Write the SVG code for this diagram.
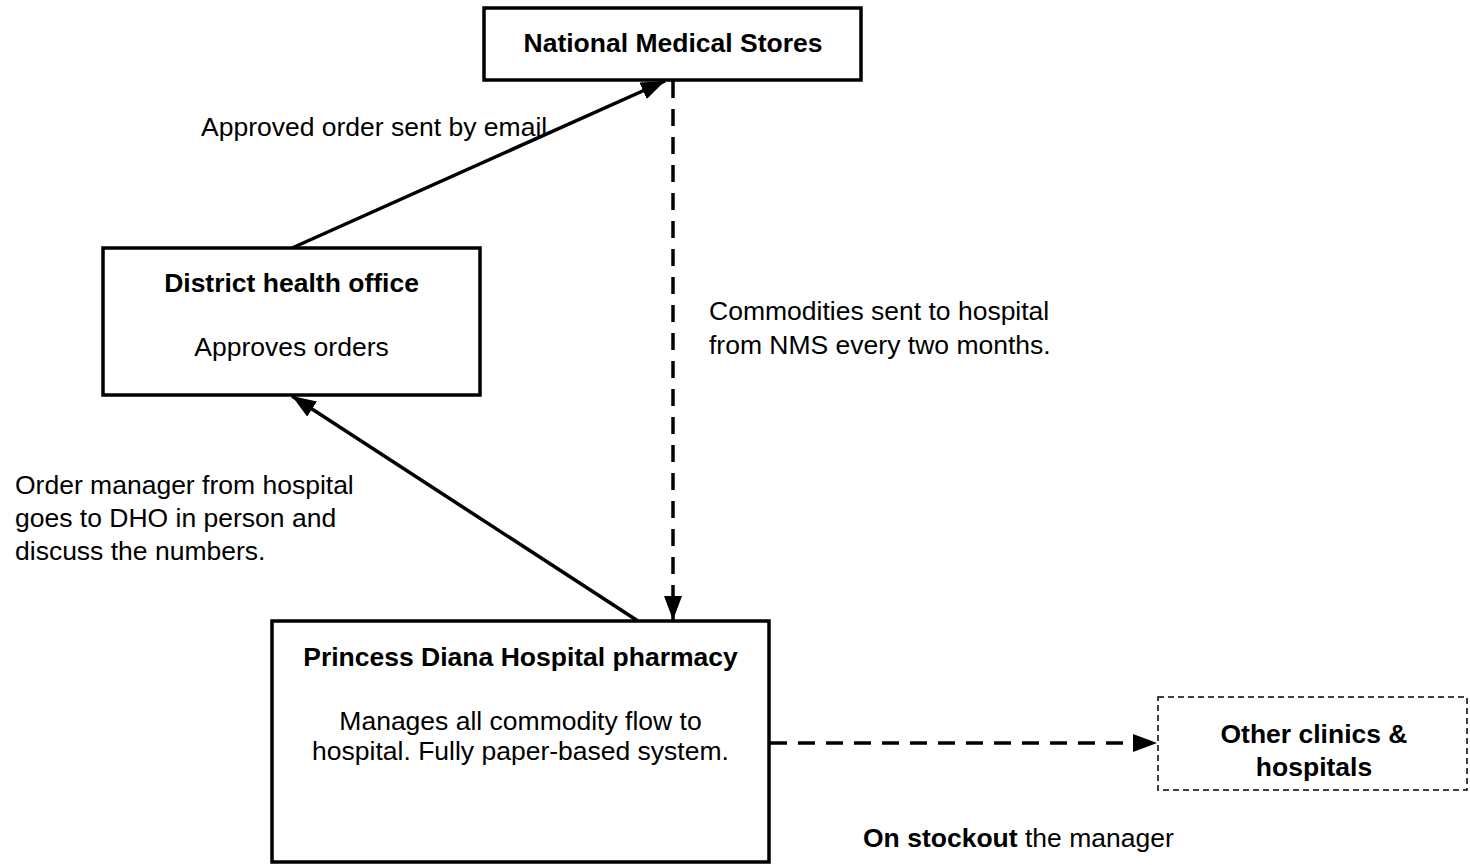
<svg xmlns="http://www.w3.org/2000/svg" width="1470" height="865" viewBox="0 0 1470 865">
<style>
.box{fill:#fff;stroke:#000;stroke-width:3.5}
.dbox{fill:#fff;stroke:#000;stroke-width:1.5;stroke-dasharray:6 4}
.t{font-family:"Liberation Sans",Arial,sans-serif;font-size:26.5px;fill:#000}
.b{font-weight:bold}
.c{text-anchor:middle}
.ln{fill:none;stroke:#000;stroke-width:3.5}
.dash{stroke-dasharray:17 11}
</style>
<defs>
<marker id="ah" viewBox="0 0 24 18" refX="24" refY="9" markerWidth="24" markerHeight="18" markerUnits="userSpaceOnUse" orient="auto">
<path d="M0,0 L24,9 L0,18 Z" fill="#000"/>
</marker>
</defs>
<g id="connectors">
<line class="ln" x1="292" y1="248" x2="665" y2="81" marker-end="url(#ah)"/>
<line class="ln" x1="638" y1="621" x2="292" y2="396" marker-end="url(#ah)"/>
<line class="ln dash" x1="673" y1="81" x2="673" y2="620" marker-end="url(#ah)"/>
<line class="ln dash" x1="770" y1="743" x2="1157" y2="743" marker-end="url(#ah)"/>
</g>
<g id="nms">
<rect class="box" x="484" y="8" width="377" height="72"/>
<text class="t b c" x="673" y="52">National Medical Stores</text>
</g>
<g id="dho">
<rect class="box" x="103" y="248" width="377" height="147"/>
<text class="t b c" x="291.5" y="292">District health office</text>
<text class="t c" x="291.5" y="356">Approves orders</text>
</g>
<g id="pdh">
<rect class="box" x="272" y="621" width="497" height="241"/>
<text class="t b c" x="520.5" y="666">Princess Diana Hospital pharmacy</text>
<text class="t c" x="520.5" y="730">Manages all commodity flow to</text>
<text class="t c" x="520.5" y="760">hospital. Fully paper-based system.</text>
</g>
<g id="other">
<rect class="dbox" x="1158" y="697" width="309" height="93"/>
<text class="t b c" x="1314" y="743">Other clinics &amp;</text>
<text class="t b c" x="1314" y="776">hospitals</text>
</g>
<g id="labels">
<text class="t" x="201" y="136">Approved order sent by email</text>
<text class="t" x="709" y="320">Commodities sent to hospital</text>
<text class="t" x="709" y="354">from NMS every two months.</text>
<text class="t" x="15" y="494">Order manager from hospital</text>
<text class="t" x="15" y="527">goes to DHO in person and</text>
<text class="t" x="15" y="560">discuss the numbers.</text>
<text class="t" x="863" y="847"><tspan class="b">On stockout</tspan> the manager</text>
</g>
</svg>
